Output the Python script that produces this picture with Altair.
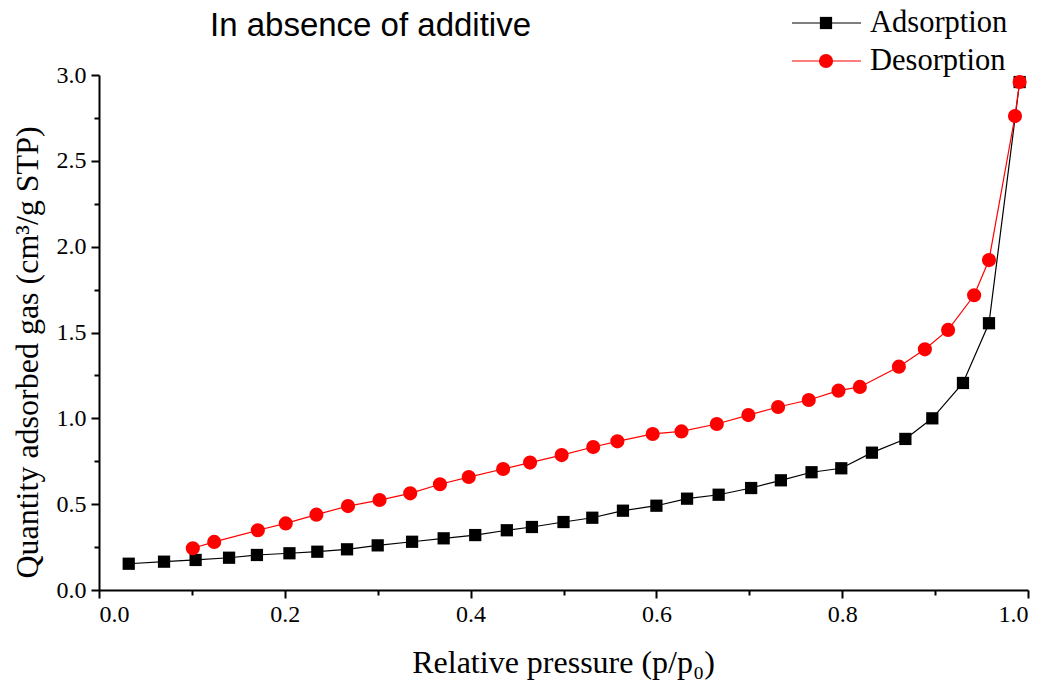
import altair as alt
import pandas as pd

# ---- data ----
ads_x = [0.032, 0.070, 0.104, 0.140, 0.170, 0.205, 0.235, 0.267, 0.300, 0.337,
         0.371, 0.405, 0.439, 0.466, 0.500, 0.531, 0.564, 0.600, 0.633, 0.667,
         0.702, 0.734, 0.767, 0.799, 0.832, 0.868, 0.897, 0.930, 0.958, 0.991]
ads_y = [0.153, 0.165, 0.175, 0.188, 0.204, 0.214, 0.223, 0.237, 0.260, 0.281,
         0.301, 0.320, 0.348, 0.367, 0.396, 0.421, 0.462, 0.491, 0.532, 0.555,
         0.594, 0.639, 0.686, 0.709, 0.800, 0.880, 1.000, 1.206, 1.554, 2.959]
des_x = [0.101, 0.124, 0.171, 0.201, 0.234, 0.268, 0.302, 0.335, 0.367, 0.398,
         0.435, 0.464, 0.498, 0.532, 0.558, 0.596, 0.627, 0.665, 0.699, 0.731,
         0.764, 0.796, 0.819, 0.861, 0.889, 0.914, 0.942, 0.958, 0.986, 0.991]
des_y = [0.243, 0.280, 0.348, 0.388, 0.439, 0.489, 0.524, 0.563, 0.616, 0.658,
         0.705, 0.742, 0.786, 0.833, 0.866, 0.909, 0.924, 0.967, 1.019, 1.066,
         1.107, 1.161, 1.183, 1.301, 1.402, 1.515, 1.717, 1.922, 2.761, 2.959]

series_names = ["Adsorption", "Desorption"]
series_colors = ["#000000", "#ff0000"]
series_shapes = ["square", "circle"]
series_sizes = [150, 200]
x_ticks = [0.0, 0.1, 0.2, 0.3, 0.4, 0.5, 0.6, 0.7, 0.8, 0.9, 1.0]
y_ticks = [0.0, 0.25, 0.5, 0.75, 1.0, 1.25, 1.5, 1.75, 2.0, 2.25, 2.5, 2.75, 3.0]

df = pd.DataFrame({
    "x": ads_x + des_x,
    "y": ads_y + des_y,
    "series": [series_names[0]] * len(ads_x) + [series_names[1]] * len(des_x),
})

SERIF = "Liberation Serif"

x_enc = alt.X(
    "x:Q",
    scale=alt.Scale(domain=[0, 1], nice=False, zero=False),
    axis=alt.Axis(
        values=x_ticks,
        labelExpr="round(datum.value*10) % 2 == 0 ? format(datum.value, '.1f') : ''",
        tickSize={"condition": {"test": "round(datum.value*10) % 2 == 0", "value": 8}, "value": 5},
        labelFont=SERIF, labelFontSize=24, labelColor="black", labelPadding=4,
        domainColor="black", domainWidth=2, tickColor="black", tickWidth=2,
        grid=False, gridOpacity=0, gridColor="transparent",
        title="Relative pressure (p/p\u2080)",
        titleFont=SERIF, titleFontSize=32, titleFontWeight="normal", titleColor="black",
        titleX=464, titleY=72, titleBaseline="middle", titleAlign="center",
    ),
)
y_enc = alt.Y(
    "y:Q",
    scale=alt.Scale(domain=[0, 3], nice=False, zero=False),
    axis=alt.Axis(
        values=y_ticks,
        labelExpr="round(datum.value*4) % 2 == 0 ? format(datum.value, '.1f') : ''",
        tickSize={"condition": {"test": "round(datum.value*4) % 2 == 0", "value": 8}, "value": 5},
        labelFont=SERIF, labelFontSize=24, labelColor="black", labelPadding=5,
        domainColor="black", domainWidth=2, tickColor="black", tickWidth=2,
        grid=False, gridOpacity=0, gridColor="transparent",
        title="Quantity adsorbed gas (cm\u00b3/g STP)",
        titleFont=SERIF, titleFontSize=32, titleFontWeight="normal", titleColor="black",
        titleX=-72, titleY=277, titleAngle=270, titleBaseline="middle", titleAlign="center",
    ),
)

color_scale = alt.Scale(domain=series_names, range=series_colors)

lines = alt.Chart(df).mark_line(strokeWidth=1.2).encode(
    x=x_enc, y=y_enc,
    color=alt.Color("series:N", scale=color_scale, legend=None),
    order="x:Q",
)

layers = [lines]
for name, col, shp, sz in zip(series_names, series_colors, series_shapes, series_sizes):
    layers.append(
        alt.Chart(df).transform_filter(alt.datum.series == name)
        .mark_point(shape=shp, size=sz, filled=True, opacity=1, color=col, strokeWidth=0)
        .encode(x=x_enc, y=y_enc)
    )

# ---- legend (top right, above the plot) ----
legend_rows_y = [-52, -14]          # pixel rows relative to the plot top
legend_line_x = (693, 762)           # line start / end relative to plot left
legend_marker_x = 727
legend_text_x = 771
for name, col, shp, sz, ly in zip(series_names, series_colors, series_shapes, series_sizes, legend_rows_y):
    one = pd.DataFrame({"series": [name]})
    layers.append(
        alt.Chart(one).mark_rule(color=col, strokeWidth=1.2).encode(
            x=alt.value(legend_line_x[0]), x2=alt.value(legend_line_x[1]), y=alt.value(ly)
        )
    )
    layers.append(
        alt.Chart(one).mark_point(shape=shp, size=sz, filled=True, opacity=1, color=col, strokeWidth=0).encode(
            x=alt.value(legend_marker_x), y=alt.value(ly)
        )
    )
    layers.append(
        alt.Chart(one).mark_text(align="left", baseline="middle", font=SERIF, fontSize=30.5, color="black").encode(
            x=alt.value(legend_text_x), y=alt.value(ly), text="series:N"
        )
    )

chart = alt.layer(*layers).properties(
    width=929, height=515,
    autosize=alt.AutoSizeParams(type="none"),
    padding={"left": 99, "top": 75, "right": 19, "bottom": 96},
    view=alt.ViewBackground(stroke="transparent", strokeWidth=0),
    title=alt.TitleParams(
        "In absence of additive", anchor="start", frame="group", dx=111, dy=61, offset=0,
        baseline="alphabetic",
        font="Liberation Sans", fontSize=33, fontWeight="normal", color="black",
    ),
).configure(
    background="white",
    style={"cell": {"stroke": "transparent", "strokeWidth": 0}},
).configure_view(
    stroke="transparent", strokeWidth=0
).configure_axis(grid=False, gridOpacity=0)

chart.save("out.html", embed_options={"renderer": "svg", "actions": False})
